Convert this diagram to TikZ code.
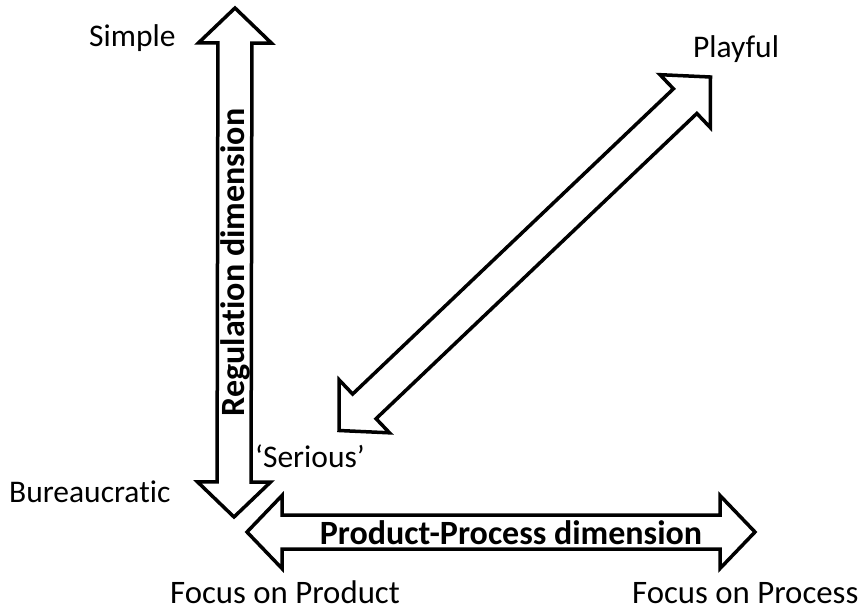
\documentclass[tikz,border=0pt]{standalone}
\usepackage{fontspec}
\setmainfont{Carlito}[Ligatures=CommonOff]
\usetikzlibrary{calc}

% Hollow double-headed block arrow between two tip coordinates.
% #1 = name prefix, #2 = first tip, #3 = second tip
\newcommand\blockarrow[3]{%
  \coordinate (#1-ba) at ($(#2)!\headlen!(#3)$);
  \coordinate (#1-bb) at ($(#3)!\headlen!(#2)$);
  \draw[arrowline] (#2)
    -- ($(#1-ba)!\headhw!90:(#2)$)
    -- ($(#1-ba)!\shafthw!90:(#2)$)
    -- ($(#1-bb)!\shafthw!-90:(#3)$)
    -- ($(#1-bb)!\headhw!-90:(#3)$)
    -- (#3)
    -- ($(#1-bb)!\headhw!90:(#3)$)
    -- ($(#1-bb)!\shafthw!90:(#3)$)
    -- ($(#1-ba)!\shafthw!-90:(#2)$)
    -- ($(#1-ba)!\headhw!-90:(#2)$)
    -- cycle;
}
\newcommand\headlen{35pt}
\newcommand\headhw{36.5pt}
\newcommand\shafthw{17pt}

\begin{document}
\begin{tikzpicture}[x=1pt, y=-1pt,
  arrowline/.style={draw=black, fill=white, line width=3.5pt, line join=miter},
  label/.style={inner sep=0pt, anchor=base west, font=\fontsize{31.5}{36}\selectfont},
  axislabel/.style={label, font=\fontsize{32.8}{38}\selectfont},
  inlabel/.style={inner sep=0pt, anchor=base, font=\fontsize{34}{40}\selectfont\bfseries}]
  \useasboundingbox (0,0) rectangle (863,611);

  % tips of the three arrows
  \coordinate (regTop) at (235,8);
  \coordinate (regBot) at (234,517);
  \coordinate (ppLeft) at (247,532);
  \coordinate (ppRight) at (755,532);
  \coordinate (spSerious) at (339,430.5);
  \coordinate (spPlayful) at (710.5,77);

  \blockarrow{reg}{regTop}{regBot}
  \blockarrow{pp}{ppLeft}{ppRight}
  \blockarrow{sp}{spSerious}{spPlayful}

  % labels inside the arrows
  \node[inlabel, rotate=90] (regText) at (244,262.5) {Regulation dimension};
  \node[inlabel] (ppText) at (511,544) {Product-Process dimension};

  % end labels
  \node[label] (simple) at (89,46) {Simple};
  \node[label] (bureau) at (9,502) {Bureaucratic};
  \node[label] (playful) at (693,57) {Playful};
  \node[label] (serious) at (255,467) {‘Serious’};
  \node[axislabel] (fprod) at (170,603) {Focus on Product};
  \node[axislabel] (fproc) at (632,603) {Focus on Process};
\end{tikzpicture}
\end{document}
